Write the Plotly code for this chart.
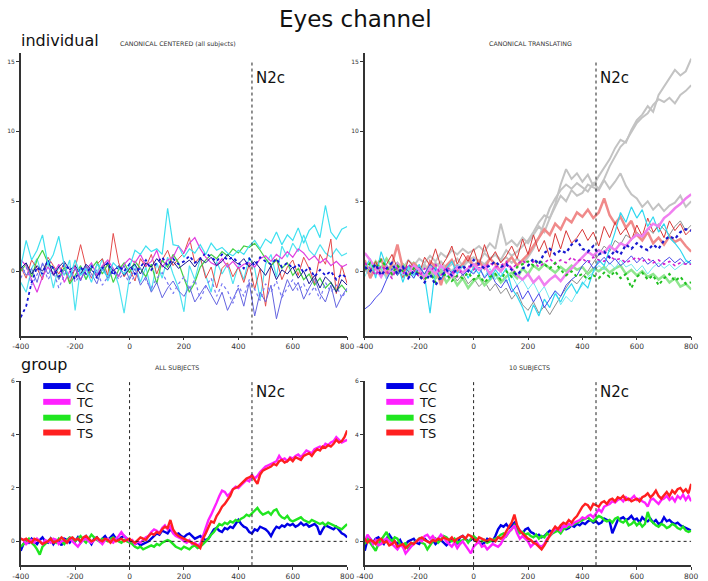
import plotly.graph_objects as go

# ---------------- time bases ----------------
t_top = list(range(-400, 801, 20))   # 61 samples
t_bot = list(range(-400, 801, 10))   # 121 samples

# ---------------- top-left: CANONICAL CENTERED (individual subjects) ----------------
tl_cyan1 = [0.3, 2.2, 0.8, 1.5, 2.6, 0.5, 1.2, 2.5, 0.4, -0.5,
            0.8, -0.3, 0.2, -0.8, 0.5, 0.1, -0.4, 0.6, 0.2, -0.2,
            0.3, 1.5, 1.2, 1.8, 1.4, 1.6, 1.2, 4.5, 1.9, 1.8,
            1.0, 1.6, 1.3, 1.9, 1.2, 2.0, 1.5, 1.7, 1.3, 1.1,
            1.5, 1.2, 1.8, 2.2, 1.6, 2.3, 2.0, 2.8, 1.9, 2.6,
            2.2, 3.1, 2.0, 2.9, 3.3, 2.4, 4.7, 2.8, 2.3, 3.0, 3.2]
tl_cyan2 = [-0.8, -1.5, 0.2, 0.9, -0.4, 0.6, -1.2, 0.4, -0.3, 0.8,
            -2.8, 0.3, -0.6, 0.5, -0.2, 0.9, -0.7, 0.2, -1.0, -3.0,
            -0.4, 0.5, -0.8, 0.3, -1.4, 0.6, -0.5, 1.0, -0.2, -1.2,
            -2.9, 0.4, -0.6, 0.9, -0.3, -1.5, 0.7, -0.2, 0.5, -0.9,
            0.4, -0.6, 1.0, 0.2, -2.0, 0.5, 1.2, -0.4, 1.8, 1.0,
            2.0, 1.4, 2.6, 1.5, 1.1, 1.9, 1.3, 1.0, 1.6, 1.1, 1.3]
tl_red = [0.3, -0.5, 0.8, 0.2, -0.6, 1.0, 0.4, -0.2, 0.6, -0.8,
          0.2, 1.9, 0.3, -0.5, 0.5, 0.9, -0.3, 2.7, 0.6, -0.4,
          0.2, -0.7, 0.9, 0.3, 1.2, -0.2, 0.8, 1.5, 0.4, 0.9,
          1.3, 2.4, 0.6, 1.0, -0.5, 0.3, -1.2, 0.2, 0.6, -0.4,
          0.3, -0.8, 0.5, -1.3, 0.2, -2.5, 0.4, 0.9, -0.6, 0.3,
          0.8, -0.3, 1.0, 0.2, -0.9, 1.2, 0.5, 2.3, -1.6, 0.4, -0.9]
tl_magenta = [0.8, 0.4, -0.6, -1.5, -0.4, 0.3, -0.2, 0.5, -0.8, 0.0,
              0.3, -0.6, 0.1, 0.6, -0.3, 0.4, 0.8, 0.2, -0.4, 0.5,
              0.9, 0.6, 1.2, 0.4, 0.7, 1.5, 0.3, 0.8, 1.0, 1.8,
              1.3, 2.0, 2.4, 1.6, 1.0, 0.6, 0.4, 0.9, 0.3, 0.7,
              0.2, 0.5, 0.6, 0.3, 0.9, 1.1, 0.7, 1.2, 0.9, 1.4,
              1.0, 1.6, 1.3, 0.8, 1.1, 0.6, 0.9, 0.4, 0.7, 0.3, 0.5]
tl_green = [0.0, 0.5, -0.4, 0.8, 1.5, 0.6, 0.2, -0.5, 0.3, -0.9,
            -0.3, 0.4, -0.6, 0.2, 0.7, -0.2, 0.5, -0.8, 0.1, 0.6,
            -0.1, 0.7, 0.2, -0.4, 0.5, -0.9, 0.8, 0.3, 1.2, 0.6,
            -0.5, -1.5, -0.8, 0.3, 0.8, 1.2, 0.9, 1.4, 1.1, 1.6,
            1.3, 1.8, 1.7, 2.0, 1.5, 0.9, 0.4, 0.8, 0.2, 0.6,
            -0.3, 0.2, -0.6, -0.2, -1.0, -0.5, -1.2, -0.8, -1.4, -1.0, -1.5]
tl_bluedot = [-3.3, -2.5, -0.8, 0.3, -0.2, 0.8, 0.2, -0.4, 0.5, 0.1,
              -0.6, 0.3, -0.2, 0.4, -0.5, 0.2, 0.6, -0.3, 0.4, 0.0,
              0.5, -0.2, 0.3, 0.8, 0.1, 0.6, 1.0, 0.4, 0.9, 0.5,
              0.7, 1.1, 0.6, 0.9, 1.3, 1.0, 0.7, 1.2, 0.8, 1.0,
              0.6, 0.2, 0.9, 0.4, 1.0, 0.7, 0.5, 0.9, 0.3, 0.6,
              0.2, 0.5, -0.1, 0.3, -0.4, 0.1, -0.3, 0.0, -0.6, -0.2, -0.5]
tl_slate = [0.5, -0.3, 0.2, -0.8, 0.6, -0.2, 0.3, -0.6, 0.1, -0.4,
            0.2, -0.7, 0.4, -0.2, -0.9, 0.3, -0.5, 0.1, -0.3, 0.4,
            -0.6, 0.2, -1.0, -0.4, -1.5, -0.8, -1.9, -1.2, -0.7, -1.4,
            -1.8, -1.1, -2.2, -1.6, -1.0, -1.7, -2.4, -1.5, -2.8, -2.0,
            -1.2, -2.5, -0.8, -3.2, -1.5, -2.2, -1.0, -3.4, -1.8, -0.6,
            -1.4, -0.8, -2.0, -1.2, -0.5, -1.6, -2.2, -1.0, -2.6, -1.8, -1.2]
tl_navy = [0.2, 0.6, -0.2, 0.4, 0.0, 0.8, -0.3, 0.3, 0.7, 0.1,
           0.4, -0.2, 0.5, 0.1, -0.4, 0.3, 0.6, 0.0, 0.4, -0.3,
           0.2, 0.5, -0.2, 0.6, 0.3, 0.9, 0.4, 0.1, 0.7, 0.2,
           0.5, 0.8, 0.3, 0.9, 0.6, 1.0, 0.4, 0.7, 1.2, 0.8,
           0.5, 0.9, 0.3, 0.7, 0.2, -0.3, 0.4, -0.6, 0.1, -0.2,
           0.3, -0.5, 0.0, -0.9, -0.3, -1.2, -0.4, -0.8, -1.5, -0.6, -1.0]
tl_violet = [-0.5, 0.3, -1.0, -0.2, 0.5, -0.6, 0.0, -1.2, -0.3, 0.4,
             -0.8, -0.2, 0.3, -0.5, 0.1, -1.0, -0.4, 0.2, -0.6, -0.1,
             -0.9, -0.3, 0.2, -0.7, -1.2, -0.5, -0.1, -0.8, -1.6, -0.9,
             -0.4, -1.3, -0.6, -2.0, -1.1, -0.5, -1.8, -0.9, -1.4, -2.3,
             -1.0, -1.8, -0.6, -1.3, -2.1, -0.9, -1.5, -0.7, -1.9, -1.2,
             -0.6, -1.4, -0.9, -1.7, -1.1, -2.0, -0.8, -1.5, -1.0, -1.9, -1.3]

# ---------------- top-right: CANONICAL TRANSLATING (individual subjects) ----------------
tr_grayA = [0.2, -0.3, 0.5, 0.1, -0.4, 0.3, 0.6, 0.0, -0.2, 0.4,
            0.1, 0.5, -0.2, 0.3, 0.7, 0.2, 0.5, 0.9, 0.4, 0.8,
            1.0, 0.7, 1.3, 0.9, 1.2, 0.8, 1.5, 1.1, 1.4, 1.8,
            2.2, 2.8, 3.5, 4.0, 3.8, 4.8, 6.2, 7.3, 6.6, 7.0,
            6.4, 6.9, 6.1, 6.8, 7.4, 8.0, 8.8, 9.4, 9.2, 10.1,
            10.8, 11.2, 11.8, 11.4, 12.6, 13.2, 13.8, 14.4, 14.0, 14.3, 15.2]
tr_grayB = [0.0, 0.4, -0.2, 0.3, 0.1, -0.3, 0.2, 0.5, 0.0, 0.3,
            -0.2, 0.4, 0.1, 0.6, 0.2, 0.4, 0.0, 0.5, 0.3, 0.7,
            0.4, 0.8, 0.5, 0.9, 1.2, 0.7, 1.0, 0.6, 0.9, 0.5,
            1.0, 1.6, 2.4, 3.5, 4.5, 5.2, 5.8, 6.2, 5.9, 6.3,
            6.0, 5.7, 6.3, 5.9, 6.6, 7.5, 8.2, 8.9, 9.3, 10.0,
            10.6, 11.0, 11.3, 11.9, 12.3, 12.1, 12.4, 12.0, 12.6, 12.9, 13.3]
tr_grayC = [0.3, 0.0, 0.5, -0.2, 0.4, 0.1, 0.6, 0.2, 0.8, 0.4,
            0.9, 0.6, 1.1, 0.7, 1.3, 1.0, 1.5, 1.2, 1.6, 1.3,
            1.5, 1.8, 1.4, 2.0, 1.6, 3.4, 1.9, 2.2, 1.8, 2.4,
            2.0, 2.6, 3.2, 2.8, 3.8, 4.6, 5.4, 5.0, 5.8, 5.4,
            5.6, 6.2, 6.0, 5.8, 6.5, 5.9, 6.4, 7.0, 6.1, 5.5,
            5.2, 4.6, 5.0, 4.4, 4.8, 4.3, 4.7, 4.9, 5.4, 4.6, 5.0]
tr_graythin = [0.2, -0.4, 0.3, -0.2, 0.5, -0.3, 0.1, -0.5, 0.2, -0.1,
               0.4, -0.3, 0.0, -0.6, 0.2, -0.4, -0.1, -0.7, -0.2, -0.9,
               -0.5, -1.1, -0.7, -1.4, -0.9, -1.6, -1.2, -2.0, -1.5, -2.4,
               -2.8, -2.2, -3.0, -2.5, -3.1, -2.4, -1.8, -1.2, -0.6, -0.9,
               -0.4, 0.0, 0.6, 1.2, 1.8, 1.4, 2.2, 1.9, 2.6, 2.3,
               2.8, 2.4, 3.1, 2.7, 3.4, 3.0, 2.6, 3.2, 3.6, 2.9, 3.3]
tr_salmon = [0.8, -0.5, 0.3, 0.9, -0.2, 0.5, 1.9, 0.2, -0.4, 0.6,
             0.1, -0.6, 0.7, 0.3, -1.0, 0.4, 0.8, 0.0, 0.5, 1.1,
             0.3, 0.7, 0.2, 0.9, 0.5, 0.0, 0.6, 1.0, 0.4, 0.8,
             1.2, 1.8, 2.4, 3.0, 2.6, 3.4, 3.0, 3.8, 3.5, 4.2,
             3.9, 4.4, 3.8, 4.2, 5.2, 4.0, 3.4, 3.9, 3.1, 3.6,
             2.6, 2.2, 2.8, 2.0, 2.4, 1.9, 2.5, 2.1, 2.3, 1.8, 1.4]
tr_red = [0.4, 0.0, 0.7, -0.3, 0.5, 1.2, 0.2, -0.4, 0.8, 0.3,
          -0.2, 1.0, 0.4, 1.6, 0.3, 0.9, 1.8, 0.5, 1.3, 0.7,
          1.6, 0.4, 1.9, 0.8, 1.4, 0.6, 1.1, 1.8, 0.9, 2.3,
          1.2, 2.6, 1.4, 2.2, 1.0, 2.7, 1.6, 2.9, 2.0, 2.4,
          3.0, 2.2, 2.8, 1.8, 3.2, 2.4, 3.5, 2.6, 3.1, 2.2,
          3.3, 2.5, 3.8, 2.8, 3.2, 2.4, 3.6, 2.9, 3.4, 2.6, 3.0]
tr_cyan = [0.2, 0.9, -0.5, 1.4, 0.3, -0.2, 0.6, -0.8, 0.4, -0.3,
           0.5, -0.4, -3.0, 0.3, -0.6, 0.2, 0.7, -0.2, 0.4, -0.5,
           0.3, -0.2, 0.5, -0.6, 0.1, -0.4, 0.2, -1.2, -1.8, -2.6,
           -3.6, -2.4, -3.2, -2.0, -2.6, -1.6, -2.2, -1.4, -0.9, -1.6,
           -0.8, -1.2, 0.0, 0.8, 0.4, 1.6, 2.8, 4.2, 3.5, 4.6,
           3.8, 4.4, 3.2, 3.9, 2.8, 3.4, 2.4, 2.0, 1.5, 0.8, 0.5]
tr_cyan2 = [-0.4, 0.5, -0.2, 0.3, -0.6, 0.1, 0.4, -0.3, 0.2, -0.5,
            0.1, -0.3, 0.4, -0.1, 0.3, -0.4, 0.0, 0.5, -0.2, 0.2,
            -0.1, 0.3, -0.4, 0.2, -0.6, 0.0, -0.8, -0.3, -1.0, -0.6,
            -1.3, -0.8, -1.6, -1.1, -2.0, -1.4, -2.4, -1.8, -2.2, -1.5,
            -1.0, -0.4, -0.1, 0.4, 0.1, 0.6, 0.2, 0.8, 0.3, 0.5,
            0.0, 0.4, -0.2, 0.3, 0.6, 0.2, 0.5, 0.1, 0.4, 0.7, 0.6]
tr_bluedot = [0.3, 0.0, 0.5, -0.3, 0.2, 0.6, -0.2, 0.3, -0.5, 0.0,
              -0.3, -0.8, -0.2, -1.0, -0.4, 0.1, -0.3, 0.2, 0.4, 0.0,
              0.8, 0.5, 0.2, 0.4, 0.7, 0.3, 0.5, 0.1, -0.3, 0.2,
              0.4, 0.9, 0.5, 1.3, 1.6, 1.2, 1.5, 1.3, 1.9, 2.2,
              1.6, 1.4, 1.8, 1.2, 1.4, 1.0, 1.5, 1.2, 1.9, 1.6,
              2.0, 1.7, 1.5, 1.9, 1.6, 2.2, 2.5, 2.3, 2.8, 3.0, 2.9]
tr_bluethin = [-2.7, -2.4, -1.9, -1.5, -0.6, 0.2, -0.3, 0.4, 0.0, -0.5,
               0.3, -0.2, 0.5, 0.1, -0.6, 0.2, -0.1, 0.4, -0.3, 0.1,
               -0.2, 0.3, -0.5, 0.0, -0.8, -1.2, -0.6, -1.5, -1.0, -2.0,
               -1.4, -2.2, -1.6, -2.6, -2.0, -1.4, -1.8, -1.0, -0.6, -0.3,
               0.4, 0.8, 0.2, 0.6, 1.0, 0.5, 0.9, 0.4, 0.7, 1.1,
               0.6, 1.0, 0.5, 0.8, 0.3, 0.7, 1.0, 0.6, 0.9, 0.5, 0.8]
tr_maglight = [1.3, 0.8, 0.2, -0.4, 0.3, -0.2, 0.5, 0.0, -0.3, 0.4,
               0.1, -0.5, 0.2, -0.2, 0.4, 0.0, -0.4, 0.3, -0.1, 0.2,
               0.5, 0.1, 0.4, -0.2, 0.3, 0.0, 0.5, 0.2, -0.3, -0.6,
               -0.2, -0.8, -0.4, -1.0, -0.6, -0.3, -0.7, -0.2, 0.2, 0.6,
               1.0, 1.4, 1.1, 1.5, 1.3, 1.8, 1.5, 2.0, 1.8, 2.3,
               2.6, 2.5, 3.0, 3.4, 3.2, 3.8, 4.1, 4.5, 4.8, 5.2, 5.5]
tr_magdot = [0.6, 0.2, -0.3, 0.4, 0.0, -0.5, 0.3, -0.2, 0.5, 0.1,
             -0.4, 0.2, -0.1, 0.5, -0.3, 0.3, 0.0, -0.4, 0.2, 0.4,
             0.1, 0.5, 0.2, 0.6, 0.3, 0.4, 0.7, 0.2, 0.5, 0.8,
             0.4, 0.7, 0.3, 0.6, 0.9, 0.5, 0.8, 0.6, 1.0, 0.7,
             0.9, 0.6, 1.0, 0.8, 0.7, 1.1, 0.8, 0.9, 0.6, 0.8,
             1.0, 0.7, 0.9, 0.6, 0.8, 0.5, 0.7, 0.4, 0.6, 0.5, 0.5]
tr_greendot = [0.1, 0.6, 0.2, 0.8, 0.3, -0.2, 0.4, 0.0, -0.4, 0.2,
               -0.3, -0.6, -0.1, -0.8, -0.4, -0.2, -0.7, -0.3, -0.5, -0.1,
               -0.6, -0.3, -0.8, -0.4, -0.2, -0.6, 0.0, -0.4, 0.3, 0.5,
               0.7, 0.4, 0.8, 0.5, 0.2, 0.6, 0.1, -0.3, 0.0, -0.4,
               -0.2, -0.6, -0.3, -0.5, -0.1, -0.4, 0.0, -0.5, -0.2, -1.2,
               -0.4, -0.1, -0.6, -0.3, -1.0, -0.5, -0.2, -0.7, -0.4, -0.9, -0.8]
tr_greenlight = [0.4, 0.0, 0.7, 0.2, 0.9, 0.3, -0.2, 0.5, 0.1, 0.6,
                 0.2, -0.3, 0.4, -0.5, 0.0, -0.8, -0.3, -1.0, -0.5, -1.2,
                 -0.7, -0.4, -1.0, -0.6, -0.2, -0.8, -0.4, -0.1, -0.5, 0.2,
                 -0.2, 0.4, 0.1, 0.5, 0.2, -0.1, 0.3, 0.0, 0.4, 0.1,
                 0.3, -0.2, 0.2, 0.0, 0.3, -0.1, 0.2, 0.4, -0.2, 0.1,
                 -0.3, 0.0, -0.4, -0.2, -0.6, -0.3, -0.8, -0.5, -1.1, -0.9, -1.3]

# ---------------- bottom-left: group, ALL SUBJECTS ----------------
all_cc = [-0.35, -0.1, 0.05, -0.05, 0.1, 0.0, -0.1, 0.05, 0.15, 0.0,
          -0.05, 0.1, -0.1, 0.05, 0.0, -0.15, 0.1, 0.05, -0.05, 0.1,
          0.0, 0.15, -0.05, 0.1, 0.2, 0.05, -0.1, 0.1, 0.15, 0.0,
          0.1, 0.2, 0.05, 0.15, 0.25, 0.1, 0.05, 0.15, 0.2, 0.1,
          0.05, 0.0, -0.1, -0.05, -0.15, -0.1, -0.05, 0.0, 0.1, 0.2,
          0.3, 0.25, 0.4, 0.35, 0.3, 0.45, 0.35, 0.25, 0.3, 0.2,
          0.15, 0.25, 0.3, 0.2, 0.1, 0.15, 0.2, 0.1, 0.05, 0.1,
          0.3, 0.45, 0.5, 0.4, 0.35, 0.5, 0.45, 0.55, 0.5, 0.65,
          0.8, 0.65, 0.55, 0.5, 0.35, 0.3, 0.45, 0.4, 0.55, 0.5,
          0.45, 0.35, 0.2, 0.4, 0.55, 0.5, 0.6, 0.55, 0.65, 0.6,
          0.65, 0.55, 0.6, 0.7, 0.6, 0.65, 0.55, 0.6, 0.65, 0.55,
          0.25, 0.45, 0.6, 0.55, 0.5, 0.45, 0.55, 0.4, 0.3, 0.25,
          0.15]
all_tc = [0.1, 0.05, -0.1, 0.0, 0.05, -0.05, 0.1, 0.0, -0.1, 0.05,
          0.0, -0.05, 0.1, 0.05, -0.1, 0.0, 0.05, -0.05, 0.1, 0.0,
          -0.1, -0.2, -0.05, 0.05, 0.1, 0.0, -0.05, 0.05, 0.1, 0.0,
          -0.1, 0.05, 0.1, 0.0, -0.05, 0.1, 0.2, 0.35, 0.2, 0.1,
          0.0, 0.05, -0.1, 0.0, -0.05, 0.05, 0.15, 0.2, 0.35, 0.45,
          0.4, 0.3, 0.5, 0.6, 0.45, 0.55, 0.3, 0.2, 0.15, 0.1,
          0.0, -0.05, 0.05, -0.1, -0.05, -0.15, -0.1, 0.2, 0.5, 0.8,
          1.0, 1.2, 1.45, 1.7, 1.9, 1.85, 1.7, 1.8, 1.95, 2.05,
          2.0, 2.1, 2.2, 2.3, 2.25, 2.5, 2.35, 2.45, 2.6, 2.7,
          2.8, 2.85, 2.9, 2.95, 3.0, 3.2, 3.05, 3.1, 3.0, 3.15,
          3.1, 3.2, 3.25, 3.15, 3.3, 3.4, 3.35, 3.3, 3.45, 3.5,
          3.55, 3.5, 3.65, 3.6, 3.7, 3.75, 3.9, 3.8, 3.7, 3.75,
          3.8]
all_cs = [-0.2, -0.1, 0.0, 0.1, -0.05, -0.15, -0.3, -0.5, -0.2, -0.1,
          0.0, 0.1, 0.05, -0.05, 0.1, 0.0, -0.1, 0.05, 0.15, 0.1,
          0.0, 0.1, 0.2, 0.05, -0.05, 0.1, 0.25, 0.15, 0.05, 0.0,
          0.1, 0.05, 0.0, 0.1, 0.15, 0.05, 0.0, -0.05, 0.05, 0.0,
          -0.05, -0.1, -0.2, -0.25, -0.2, -0.3, -0.25, -0.2, -0.15, -0.2,
          -0.1, -0.15, -0.05, 0.0, 0.05, 0.0, -0.1, -0.2, -0.25, -0.3,
          -0.2, -0.25, -0.3, -0.2, -0.15, -0.25, -0.2, -0.1, 0.0, 0.1,
          0.25, 0.35, 0.5, 0.65, 0.6, 0.7, 0.65, 0.75, 0.7, 0.8,
          0.75, 0.85, 0.9, 1.0, 0.95, 1.05, 1.15, 1.25, 1.1, 1.0,
          1.05, 1.1, 1.0, 1.15, 1.2, 1.0, 0.9, 0.85, 0.95, 0.8,
          0.75, 0.8, 0.85, 0.9, 0.8, 0.75, 0.7, 0.8, 0.75, 0.7,
          0.65, 0.7, 0.6, 0.7, 0.65, 0.6, 0.55, 0.5, 0.45, 0.55,
          0.65]
all_ts = [0.1, 0.05, 0.1, 0.0, -0.05, 0.1, 0.05, 0.0, -0.1, -0.05,
          0.0, 0.1, -0.05, 0.0, 0.05, 0.15, 0.05, -0.05, 0.1, 0.15,
          0.05, 0.1, 0.0, 0.15, 0.2, 0.1, 0.0, 0.05, 0.15, 0.05,
          0.0, 0.1, 0.05, -0.05, 0.1, 0.0, 0.05, 0.1, 0.0, 0.05,
          0.1, 0.0, -0.05, 0.05, 0.15, 0.1, 0.05, 0.2, 0.3, 0.25,
          0.35, 0.3, 0.45, 0.55, 0.5, 0.8, 0.45, 0.3, 0.2, 0.15,
          0.1, 0.05, 0.0, -0.05, -0.1, -0.15, -0.25, 0.1, 0.3, 0.55,
          0.75, 0.7, 0.95, 1.1, 1.3, 1.4, 1.55, 1.7, 1.95, 2.0,
          2.05, 2.15, 2.25, 2.35, 2.4, 2.45, 2.3, 2.15, 2.5, 2.65,
          2.7, 2.75, 2.8, 2.9, 2.85, 3.0, 3.05, 2.95, 3.0, 3.1,
          3.0, 3.15, 3.1, 3.05, 3.2, 3.25, 3.3, 3.2, 3.35, 3.45,
          3.4, 3.55, 3.5, 3.6, 3.55, 3.65, 3.8, 3.7, 3.75, 3.9,
          4.15]

# ---------------- bottom-right: group, 10 SUBJECTS ----------------
ten_cc = [-0.35, 0.05, 0.1, -0.05, 0.1, 0.15, 0.0, -0.1, 0.1, 0.25,
          0.1, 0.0, -0.1, 0.05, -0.15, -0.1, 0.0, 0.05, 0.1, -0.05,
          -0.1, 0.05, 0.1, 0.0, -0.05, 0.05, -0.1, 0.0, 0.05, -0.05,
          -0.15, -0.05, 0.1, 0.05, -0.1, 0.15, 0.2, 0.1, 0.0, 0.05,
          0.15, 0.1, 0.0, -0.1, -0.05, 0.1, 0.05, 0.0, 0.2, 0.45,
          0.6, 0.55, 0.65, 0.5, 0.6, 0.7, 0.5, 0.4, 0.3, 0.45,
          0.5, 0.35, 0.3, 0.2, 0.25, 0.15, 0.2, 0.3, 0.4, 0.35,
          0.4, 0.45, 0.5, 0.55, 0.45, 0.5, 0.6, 0.55, 0.65, 0.6,
          0.7, 0.65, 0.75, 0.8, 0.7, 0.75, 0.65, 0.7, 0.85, 0.8,
          0.75, 0.3, 0.55, 0.8, 0.85, 0.9, 0.8, 0.85, 0.95, 0.8,
          0.85, 0.7, 0.9, 0.8, 0.75, 0.85, 0.7, 0.8, 0.65, 0.7,
          0.9, 0.75, 0.8, 0.7, 0.65, 0.7, 0.6, 0.55, 0.5, 0.45,
          0.4]
ten_tc = [0.0, 0.25, 0.1, -0.1, 0.05, -0.15, -0.1, 0.05, 0.1, 0.0,
          -0.1, -0.2, -0.3, -0.15, -0.2, -0.45, -0.3, -0.2, -0.1, 0.0,
          0.05, 0.0, 0.2, 0.25, 0.1, 0.2, 0.05, 0.1, 0.25, 0.15,
          0.0, -0.1, -0.2, -0.05, -0.25, -0.1, 0.0, -0.15, -0.3, -0.45,
          -0.2, -0.1, 0.0, -0.2, -0.15, -0.3, -0.2, -0.1, -0.15, -0.2,
          -0.1, 0.1, 0.2, 0.35, 0.45, 0.6, 0.3, 0.1, 0.2, 0.1,
          0.0, -0.2, -0.1, 0.0, -0.15, -0.2, -0.1, 0.1, 0.2, 0.35,
          0.45, 0.5, 0.4, 0.6, 0.55, 0.65, 0.6, 0.7, 0.75, 0.8,
          0.9, 0.85, 0.95, 1.0, 0.9, 1.05, 1.2, 1.1, 1.3, 1.35,
          1.4, 1.5, 1.45, 1.55, 1.6, 1.5, 1.65, 1.55, 1.6, 1.7,
          1.55, 1.6, 1.5, 1.45, 1.3, 1.55, 1.6, 1.5, 1.4, 1.55,
          1.6, 1.7, 1.55, 1.65, 1.5, 1.7, 1.6, 1.75, 1.55, 1.7,
          1.5]
ten_cs = [-0.1, 0.1, -0.05, -0.2, -0.35, -0.1, 0.05, 0.2, 0.35, 0.1,
          0.0, 0.15, 0.1, -0.1, -0.2, -0.05, -0.3, -0.15, -0.05, 0.0,
          0.1, -0.05, -0.1, -0.3, -0.15, 0.0, 0.1, -0.05, 0.05, 0.2,
          0.15, 0.05, 0.0, 0.1, -0.05, 0.0, 0.05, 0.1, -0.05, 0.1,
          0.2, 0.1, -0.05, 0.0, 0.05, -0.05, 0.0, 0.05, 0.1, 0.15,
          0.25, 0.3, 0.2, 0.35, 0.45, 0.6, 0.4, 0.3, 0.35, 0.25,
          0.3, 0.2, 0.15, 0.25, 0.1, 0.2, 0.15, 0.3, 0.2, 0.3,
          0.35, 0.4, 0.3, 0.45, 0.5, 0.55, 0.6, 0.65, 0.7, 0.75,
          0.8, 0.85, 0.9, 0.8, 0.75, 0.85, 0.95, 0.9, 0.8, 0.75,
          0.8, 0.7, 0.85, 0.9, 0.75, 0.7, 0.8, 0.6, 0.65, 0.75,
          0.6, 0.7, 0.55, 0.65, 1.1, 0.8, 0.7, 0.6, 0.55, 0.65,
          0.6, 0.5, 0.55, 0.65, 0.6, 0.5, 0.45, 0.55, 0.4, 0.35,
          0.4]
ten_ts = [0.1, -0.05, 0.05, 0.0, -0.1, 0.05, 0.1, -0.05, 0.0, -0.15,
          -0.1, 0.0, -0.2, -0.15, -0.1, -0.25, -0.15, -0.05, -0.1, 0.0,
          0.1, 0.15, 0.05, 0.0, -0.05, 0.05, 0.0, 0.1, 0.05, 0.15,
          0.1, 0.05, 0.15, 0.0, 0.1, 0.15, 0.2, 0.1, 0.25, 0.2,
          0.1, 0.0, 0.15, 0.1, 0.05, 0.0, 0.1, 0.05, 0.0, 0.15,
          0.1, 0.2, 0.4, 0.55, 0.7, 1.0, 0.6, 0.4, 0.3, 0.2,
          0.1, 0.05, -0.05, -0.1, -0.2, -0.3, -0.15, 0.05, 0.25, 0.4,
          0.55, 0.45, 0.6, 0.7, 0.65, 0.8, 0.7, 0.85, 0.95, 1.1,
          1.3, 1.4, 1.35, 1.2, 1.4, 1.35, 1.3, 1.45, 1.5, 1.4,
          1.55, 1.6, 1.5, 1.65, 1.6, 1.7, 1.55, 1.6, 1.5, 1.55,
          1.6, 1.5, 1.65, 1.7, 1.8, 1.65, 1.75, 1.9, 1.7, 1.6,
          1.75, 1.85, 1.7, 1.9, 1.8, 1.95, 2.0, 1.85, 1.95, 1.8,
          2.15]

x_ticks = [-400, -200, 0, 200, 400, 600, 800]
x_ticklabels = ["-400", "-200", "0", "200", "400", "600", "800"]
top_yticks = [0, 5, 10, 15]
bot_yticks = [0, 2, 4, 6]
legend_labels = ["CC", "TC", "CS", "TS"]
N2C = 450

for name, arr, n in [
    ("tl_cyan1", tl_cyan1, 61), ("tl_cyan2", tl_cyan2, 61), ("tl_red", tl_red, 61),
    ("tl_magenta", tl_magenta, 61), ("tl_green", tl_green, 61), ("tl_bluedot", tl_bluedot, 61),
    ("tl_slate", tl_slate, 61), ("tl_navy", tl_navy, 61), ("tl_violet", tl_violet, 61),
    ("tr_grayA", tr_grayA, 61), ("tr_grayB", tr_grayB, 61), ("tr_grayC", tr_grayC, 61),
    ("tr_graythin", tr_graythin, 61), ("tr_salmon", tr_salmon, 61), ("tr_red", tr_red, 61),
    ("tr_cyan", tr_cyan, 61), ("tr_cyan2", tr_cyan2, 61), ("tr_bluedot", tr_bluedot, 61),
    ("tr_bluethin", tr_bluethin, 61), ("tr_maglight", tr_maglight, 61), ("tr_magdot", tr_magdot, 61),
    ("tr_greendot", tr_greendot, 61), ("tr_greenlight", tr_greenlight, 61),
    ("all_cc", all_cc, 121), ("all_tc", all_tc, 121), ("all_cs", all_cs, 121), ("all_ts", all_ts, 121),
    ("ten_cc", ten_cc, 121), ("ten_tc", ten_tc, 121), ("ten_cs", ten_cs, 121), ("ten_ts", ten_ts, 121)]:
    assert len(arr) == n, f"{name} has {len(arr)} values, expected {n}"

FONT = "DejaVu Sans"
W, H = 708, 581

def px_x(p):
    return p / W

def px_y(p):
    return 1 - p / H

fig = go.Figure()

def add(x, y, ax, color, width=1.0, dash="solid", opacity=1.0):
    fig.add_trace(go.Scatter(x=x, y=y, mode="lines", xaxis="x" + ax, yaxis="y" + ax,
                             line=dict(color=color, width=width, dash=dash),
                             opacity=opacity, showlegend=False, hoverinfo="skip"))

# top-left traces
add(t_top, tl_cyan2, "", "#4fe3f0", 1.2)
add(t_top, tl_red, "", "#e44a4a", 1.0)
add(t_top, tl_green, "", "#44d044", 1.2)
add(t_top, tl_magenta, "", "#e040e0", 1.2)
add(t_top, tl_slate, "", "#6464e0", 1.0)
add(t_top, tl_violet, "", "#7878f4", 1.2, "dot")
add(t_top, tl_navy, "", "#181890", 1.0)
add(t_top, tl_bluedot, "", "#1414d8", 1.8, "dot")
add(t_top, tl_cyan1, "", "#3ee0f0", 1.2)

# top-right traces
add(t_top, tr_graythin, "2", "#8c8c8c", 1.0)
add(t_top, tr_grayA, "2", "#c3c3c3", 2.0)
add(t_top, tr_grayB, "2", "#c3c3c3", 2.0)
add(t_top, tr_grayC, "2", "#c3c3c3", 2.0)
add(t_top, tr_greenlight, "2", "#8fe68f", 2.5)
add(t_top, tr_salmon, "2", "#f08a8a", 2.5)
add(t_top, tr_red, "2", "#d83838", 1.0)
add(t_top, tr_cyan2, "2", "#70e8f0", 1.0)
add(t_top, tr_cyan, "2", "#30d8f0", 1.2)
add(t_top, tr_bluethin, "2", "#4848e8", 1.0)
add(t_top, tr_maglight, "2", "#f080f0", 2.5)
add(t_top, tr_magdot, "2", "#d020d0", 1.6, "dot")
add(t_top, tr_greendot, "2", "#20c020", 2.0, "dot")
add(t_top, tr_bluedot, "2", "#1818d0", 2.2, "dot")

# bottom group traces
C_CC, C_TC, C_CS, C_TS = "#0000e6", "#ff20ff", "#20e620", "#ff2020"
for ax, cc, tc, cs, ts in [("3", all_cc, all_tc, all_cs, all_ts), ("4", ten_cc, ten_tc, ten_cs, ten_ts)]:
    add(t_bot, cc, ax, C_CC, 2.4)
    add(t_bot, cs, ax, C_CS, 2.4)
    add(t_bot, tc, ax, C_TC, 2.4)
    add(t_bot, ts, ax, C_TS, 2.4)

# ---------------- axes ----------------
left_dom = [px_x(12), px_x(346)]
right_dom = [px_x(364), px_x(698)]
top_dom = [px_y(335), px_y(50)]
bot_dom = [px_y(567), px_y(381)]
top_range = [-4.6, 15.57]
bot_range = [-0.89, 6.0]

def xax(dom, anchor):
    return dict(domain=dom, anchor=anchor, range=[-400, 800], tickvals=x_ticks, ticktext=x_ticklabels,
                showline=True, linecolor="#333333", linewidth=1.5, ticks="outside",
                ticklen=3, tickcolor="#333333", tickfont=dict(family=FONT, size=7.5, color="#333333"),
                showgrid=False, zeroline=False, fixedrange=True)

def yax(dom, anchor, rng, tv):
    return dict(domain=dom, anchor=anchor, range=rng, tickvals=tv,
                showline=True, linecolor="#333333", linewidth=1.5, ticks="outside",
                ticklen=3, tickcolor="#333333", tickfont=dict(family=FONT, size=6, color="#333333"),
                showgrid=False, zeroline=False, fixedrange=True)

layout = dict(
    width=W, height=H, margin=dict(l=0, r=0, t=0, b=0),
    paper_bgcolor="white", plot_bgcolor="white", showlegend=False,
    xaxis=xax(left_dom, "y"), yaxis=yax(top_dom, "x", top_range, top_yticks),
    xaxis2=xax(right_dom, "y2"), yaxis2=yax(top_dom, "x2", top_range, top_yticks),
    xaxis3=xax(left_dom, "y3"), yaxis3=yax(bot_dom, "x3", bot_range, bot_yticks),
    xaxis4=xax(right_dom, "y4"), yaxis4=yax(bot_dom, "x4", bot_range, bot_yticks),
)
fig.update_layout(**layout)

shapes = []
dot = dict(color="#222222", width=1, dash="dot")
# N2c lines
for xr, yr, y1 in [("x", "y", 15), ("x2", "y2", 15), ("x3", "y3", 6), ("x4", "y4", 6)]:
    lo = top_range[0] if yr in ("y", "y2") else bot_range[0]
    shapes.append(dict(type="line", xref=xr, yref=yr, x0=N2C, x1=N2C, y0=lo, y1=y1, line=dot))
# stimulus onset and baseline lines in group panels
for xr, yr in [("x3", "y3"), ("x4", "y4")]:
    shapes.append(dict(type="line", xref=xr, yref=yr, x0=0, x1=0, y0=bot_range[0], y1=6, line=dot))
    shapes.append(dict(type="line", xref=xr, yref=yr, x0=0, x1=800, y0=0, y1=0, line=dot))

annotations = []
def txt(text, x, y, size, xanchor="left", color="#111111", **kw):
    annotations.append(dict(text=text, x=x, y=y, xref="paper", yref="paper", showarrow=False,
                            xanchor=xanchor, yanchor="middle",
                            font=dict(family=FONT, size=size, color=color), **kw))

txt("Eyes channel", px_x(354), px_y(15), 23, "center")
txt("individual", px_x(10), px_y(37), 16)
txt("group", px_x(10), px_y(364), 16)
txt("CANONICAL CENTERED (all subjects)", px_x(173), px_y(40), 6.3, "center", "#333333")
txt("CANONICAL TRANSLATING", px_x(534), px_y(40), 6.3, "center", "#333333")
txt("ALL SUBJECTS", px_x(172), px_y(368), 6.3, "center", "#333333")
txt("10 SUBJECTS", px_x(533), px_y(368), 6.3, "center", "#333333")

# N2c labels
for xr, yr, yv in [("x", "y", 13.8), ("x2", "y2", 13.8), ("x3", "y3", 5.6), ("x4", "y4", 5.6)]:
    annotations.append(dict(text="N2c", x=N2C, y=yv, xref=xr, yref=yr, showarrow=False,
                            xanchor="left", yanchor="middle", xshift=2,
                            font=dict(family=FONT, size=15, color="#111111")))

# legends (bars + labels) in the group panels
leg_colors = [C_CC, C_TC, C_CS, C_TS]
leg_rows = [386, 402, 418, 433]
for x0 in (35, 386):
    for lab, col, yy in zip(legend_labels, leg_colors, leg_rows):
        shapes.append(dict(type="rect", xref="paper", yref="paper",
                           x0=px_x(x0), x1=px_x(x0 + 28), y0=px_y(yy + 3), y1=px_y(yy - 3),
                           fillcolor=col, line=dict(width=0)))
        txt(lab, px_x(x0 + 31), px_y(yy + 1), 13)

fig.update_layout(shapes=shapes, annotations=annotations)
# remove the browser's default 8px body margin so the figure fills the window exactly
fig.write_html("out.html", config={"displayModeBar": False},
               post_script="document.body.style.margin='0px';")
